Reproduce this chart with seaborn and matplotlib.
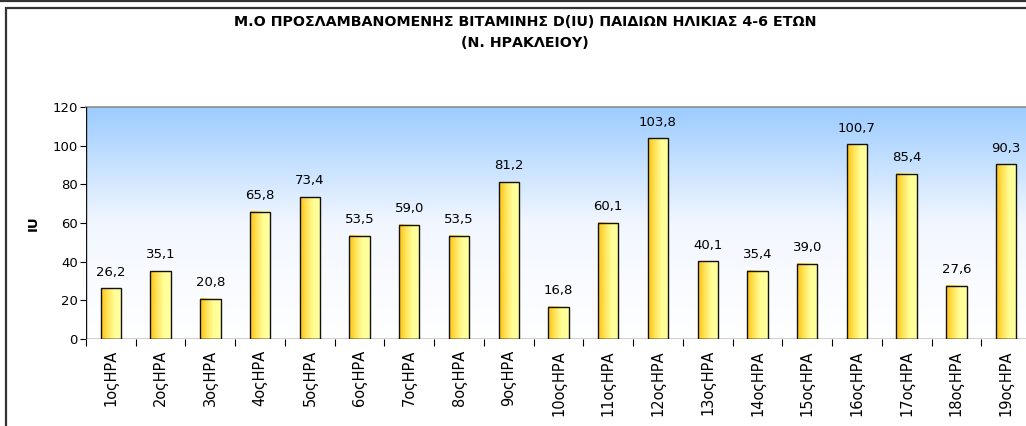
import numpy as np
import pandas as pd
import matplotlib
matplotlib.use('Agg')
import matplotlib.pyplot as plt
import seaborn as sns
from matplotlib.colors import LinearSegmentedColormap
from matplotlib.patches import Rectangle
from matplotlib.lines import Line2D

# data
categories = ['%dοςΗΡΑ' % i for i in range(1, 20)]
values = [26.2, 35.1, 20.8, 65.8, 73.4, 53.5, 59.0, 53.5, 81.2, 16.8,
          60.1, 103.8, 40.1, 35.4, 39.0, 100.7, 85.4, 27.6, 90.3]
yticks = [0, 20, 40, 60, 80, 100, 120]
title_1 = 'Μ.Ο ΠΡΟΣΛΑΜΒΑΝΟΜΕΝΗΣ ΒΙΤΑΜΙΝΗΣ D(IU) ΠΑΙΔΙΩΝ ΗΛΙΚΙΑΣ 4-6 ΕΤΩΝ'
title_2 = '(Ν. ΗΡΑΚΛΕΙΟΥ)'

df = pd.DataFrame({'cat': categories, 'val': values})

sns.set_style('white')
plt.rcParams['font.family'] = ['DejaVu Sans']
plt.rcParams['text.color'] = 'black'
plt.rcParams['axes.labelcolor'] = 'black'
plt.rcParams['xtick.color'] = 'black'
plt.rcParams['ytick.color'] = 'black'

W, H = 1026, 426
fig = plt.figure(figsize=(W / 100, H / 100), dpi=100)
ax = fig.add_axes([86 / W, 87 / H, 945 / W, 232 / H])

sns.barplot(data=df, x='cat', y='val', width=0.41, ax=ax,
            edgecolor='#111111', linewidth=1.0, zorder=3)

# background gradient: light blue at top to white at bottom
bg = LinearSegmentedColormap.from_list('bg', ['#ffffff', '#f2f7ff', '#9cccff'])
grad = np.linspace(0, 1, 256).reshape(-1, 1)
ax.imshow(grad, cmap=bg, origin='lower', aspect='auto',
          extent=(-0.5, len(categories) - 0.5, 0, 120), zorder=0)

# bar gradient: golden on the left, pale yellow on the right
barmap = LinearSegmentedColormap.from_list('bar', ['#ffc20e', '#ffe45c', '#ffff99', '#ffff9e'])
hgrad = np.linspace(0, 1, 256).reshape(1, -1)
for p in ax.patches:
    x0, w, h = p.get_x(), p.get_width(), p.get_height()
    ax.imshow(hgrad, cmap=barmap, aspect='auto',
              extent=(x0, x0 + w, 0, h), zorder=2)
    p.set_facecolor('none')
    ax.annotate(f'{h:.1f}'.replace('.', ','), (x0 + w / 2, h),
                xytext=(0, 7), textcoords='offset points',
                ha='center', va='bottom', fontsize=9.5)

ax.set_xlim(-0.5, len(categories) - 0.5)
ax.set_ylim(0, 120)

for s in ['right', 'bottom', 'left']:
    ax.spines[s].set_visible(False)
ax.spines['top'].set_color('#8c8c8c')
ax.spines['top'].set_linewidth(1.2)
ax.axvline(-0.5, color='#111111', lw=1.0, zorder=4)
ax.axhline(0, color='#111111', lw=1.0, zorder=4)

ax.set_yticks(yticks)
ax.tick_params(axis='y', length=4, width=0.8, pad=2, labelsize=9.5, left=True)
ax.set_xticks(range(len(categories)))
ax.set_xticklabels(categories, rotation=90, fontsize=10.5)
ax.tick_params(axis='x', which='major', length=0, pad=8)
ax.set_xticks(np.arange(-0.5, len(categories) + 0.5, 1), minor=True)
ax.tick_params(axis='x', which='minor', length=5, width=0.8, bottom=True)

ax.set_xlabel('')
ax.set_ylabel('IU', fontsize=9.5, fontweight='bold')
ax.yaxis.set_label_coords(-46 / 945, 0.5)

fig.text(525 / W, 1 - 22 / H, title_1, ha='center', va='center',
         fontsize=10.3, fontweight='bold')
fig.text(525 / W, 1 - 43 / H, title_2, ha='center', va='center',
         fontsize=10.3, fontweight='bold')

# outer frame of the chart object
fig.add_artist(Rectangle((6 / W, -0.2), 1.2, (H - 8) / H + 0.2,
                         transform=fig.transFigure, fill=False,
                         edgecolor='#333333', lw=1.6, clip_on=False))
fig.add_artist(Line2D([0, 1], [1 - 0.5 / H, 1 - 0.5 / H], transform=fig.transFigure,
                      color='#333333', lw=1.6))

fig.savefig('out.png', dpi=100)
